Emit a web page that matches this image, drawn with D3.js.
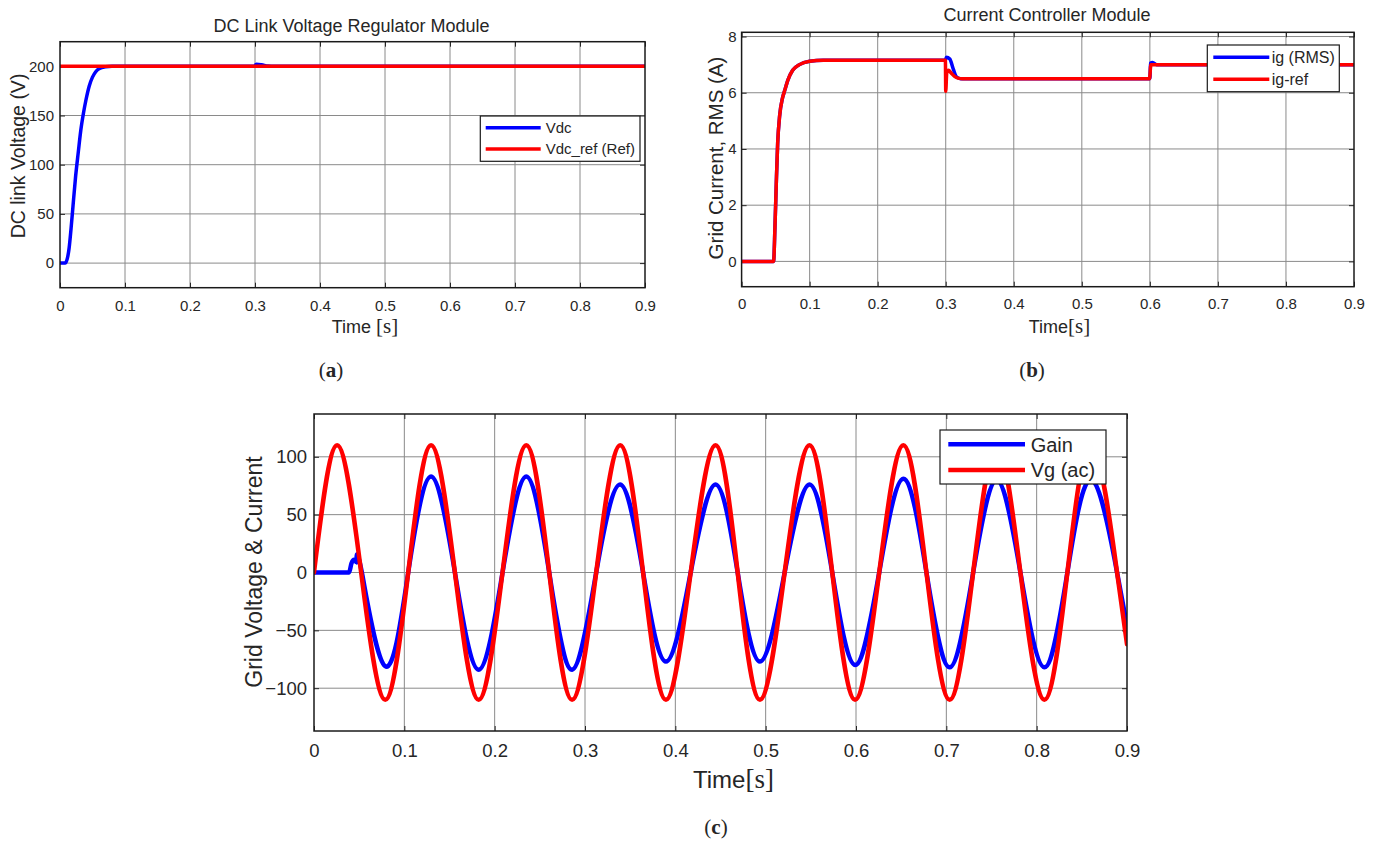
<!DOCTYPE html>
<html>
<head>
<meta charset="utf-8">
<script src="https://cdn.jsdelivr.net/npm/d3@7"></script>
<style>
  body { margin: 0; background: #fff; }
  svg { display: block; }
  text { font-family: "Liberation Sans", Arial, sans-serif; fill: #262626; }
</style>
</head>
<body>
<svg id="chart" width="1381" height="843"></svg>
<script>
// shared time axis
const timeTicks = [0, 0.1, 0.2, 0.3, 0.4, 0.5, 0.6, 0.7, 0.8, 0.9];
const timeTickLabels = ['0', '0.1', '0.2', '0.3', '0.4', '0.5', '0.6', '0.7', '0.8', '0.9'];

// (a) DC link voltage
const vdcTime   = [0, 0.008, 0.011, 0.014, 0.017, 0.020, 0.024, 0.028, 0.032, 0.036, 0.040, 0.045, 0.050, 0.055, 0.060, 0.070, 0.080, 0.299, 0.302, 0.310, 0.320, 0.330, 0.9];
const vdcValues = [0, 0, 4, 15, 35, 58, 88, 112, 135, 152, 166, 180, 189, 194.5, 197.5, 199.5, 200, 200, 202, 201.5, 200.3, 200, 200];
const vdcRefTime   = [0, 0.9];
const vdcRefValues = [200, 200];
const vdcTicks = [0, 50, 100, 150, 200];

// (b) grid current RMS
const igTime   = [0, 0.047, 0.049, 0.051, 0.053, 0.056, 0.060, 0.063, 0.068, 0.075, 0.085, 0.100, 0.120, 0.2995, 0.301, 0.306, 0.311, 0.316, 0.322, 0.600, 0.601, 0.604, 0.610, 0.9];
const igValues = [0, 0, 1.2, 2.8, 4.2, 5.2, 5.8, 6.05, 6.45, 6.8, 7.0, 7.12, 7.16, 7.16, 7.26, 7.2, 6.85, 6.56, 6.5, 6.5, 7.05, 7.08, 7.0, 7.0];
const igRefTime   = [0, 0.047, 0.049, 0.051, 0.053, 0.056, 0.060, 0.063, 0.068, 0.075, 0.085, 0.100, 0.120, 0.2995, 0.300, 0.3015, 0.304, 0.308, 0.313, 0.318, 0.325, 0.5995, 0.6015, 0.9];
const igRefValues = [0, 0, 1.2, 2.8, 4.2, 5.2, 5.8, 6.05, 6.45, 6.8, 7.0, 7.12, 7.16, 7.16, 6.05, 6.7, 6.8, 6.7, 6.58, 6.52, 6.5, 6.5, 7.0, 7.0];
const igTicks = [0, 2, 4, 6, 8];

// (c) grid voltage & current
const gainTime   = [0, 0.0388, 0.0415, 0.0444, 0.047, 0.053, 0.0789, 0.1043, 0.1296, 0.156, 0.1823, 0.2087, 0.235, 0.2604, 0.2857, 0.3124, 0.339, 0.3643, 0.3896, 0.417, 0.4445, 0.469, 0.4937, 0.521, 0.5485, 0.5737, 0.599, 0.6257, 0.6524, 0.678, 0.7037, 0.7297, 0.7557, 0.782, 0.8085, 0.834, 0.861, 0.889, 0.9];
const gainValues = [0, 0, 8, 11, 9, 0, -81, 0, 83, 0, -84, 0, 83, 0, -84, 0, 76, 0, -77, 0, 76, 0, -77, 0, 76, 0, -80, 0, 81, 0, -82, 0, 80, 0, -82, 0, 80, 0, -46];
const vgTime   = [0, 0.0256, 0.0522, 0.0789, 0.1043, 0.1296, 0.156, 0.1823, 0.2087, 0.235, 0.2604, 0.2857, 0.3124, 0.339, 0.3643, 0.3896, 0.417, 0.4445, 0.469, 0.4937, 0.521, 0.5485, 0.5737, 0.599, 0.6257, 0.6524, 0.678, 0.7037, 0.7297, 0.7557, 0.782, 0.8085, 0.834, 0.861, 0.889, 0.9];
const vgValues = [0, 110, 0, -110, 0, 110, 0, -110, 0, 110, 0, -110, 0, 110, 0, -110, 0, 110, 0, -110, 0, 110, 0, -110, 0, 110, 0, -110, 0, 110, 0, -110, 0, 110, 0, -62];
const gridTicks = [-100, -50, 0, 50, 100];

const svg = d3.select('#chart');
const zip = (t, v) => t.map((d, i) => [d, v[i]]);

function drawPanel(p) {
    const g = svg.append('g');
    const x = d3.scaleLinear().domain([0, 0.9]).range([p.left, p.right]);
    const y = d3.scaleLinear().domain(p.yDomain).range([p.bottom, p.top]);

    // grid
    g.append('g').selectAll('line')
        .data(timeTicks.slice(1, -1))
        .join('line')
        .attr('x1', d => x(d)).attr('x2', d => x(d))
        .attr('y1', p.top).attr('y2', p.bottom)
        .attr('stroke', '#8a8a8a').attr('stroke-width', 1);
    g.append('g').selectAll('line')
        .data(p.yTicks)
        .join('line')
        .attr('x1', p.left).attr('x2', p.right)
        .attr('y1', d => y(d)).attr('y2', d => y(d))
        .attr('stroke', '#8a8a8a').attr('stroke-width', 1);

    // axes, ticks pointing inwards
    const xAxis = g.append('g')
        .attr('transform', `translate(0,${p.bottom})`)
        .call(d3.axisBottom(x).tickValues(timeTicks)
            .tickFormat((d, i) => timeTickLabels[i])
            .tickSizeInner(-5).tickSizeOuter(0).tickPadding(p.xPad));
    const yAxis = g.append('g')
        .attr('transform', `translate(${p.left},0)`)
        .call(d3.axisLeft(y).tickValues(p.yTicks)
            .tickSizeInner(-5).tickSizeOuter(0).tickPadding(p.yPad));
    g.append('g')
        .attr('transform', `translate(${p.right},0)`)
        .call(d3.axisRight(y).tickValues(p.yTicks).tickFormat('').tickSizeInner(-5).tickSizeOuter(0));
    g.append('g')
        .attr('transform', `translate(0,${p.top})`)
        .call(d3.axisTop(x).tickValues(timeTicks).tickFormat('').tickSizeInner(-5).tickSizeOuter(0));
    g.selectAll('.domain').remove();
    g.selectAll('.tick line').attr('stroke', '#262626');
    [xAxis, yAxis].forEach(a => a.selectAll('text')
        .style('font-size', p.tickFont + 'px')
        .attr('fill', '#262626'));

    // data lines, clipped to the plot box
    const clipId = 'clip-' + p.id;
    g.append('clipPath').attr('id', clipId)
        .append('rect')
        .attr('x', p.left).attr('y', p.top)
        .attr('width', p.right - p.left).attr('height', p.bottom - p.top);
    const lines = g.append('g').attr('clip-path', `url(#${clipId})`);
    p.series.forEach(s => {
        s.parts.forEach(part => {
            lines.append('path')
                .datum(part.points)
                .attr('d', d3.line().x(d => x(d[0])).y(d => y(d[1])).curve(part.curve))
                .attr('fill', 'none')
                .attr('stroke', s.color)
                .attr('stroke-width', p.lineWidth)
                .attr('stroke-linejoin', 'round')
                .attr('stroke-linecap', 'round');
        });
    });

    // box
    g.append('rect')
        .attr('x', p.left).attr('y', p.top)
        .attr('width', p.right - p.left).attr('height', p.bottom - p.top)
        .attr('fill', 'none').attr('stroke', '#1a1a1a').attr('stroke-width', 1.5);

    // legend
    const L = p.legend;
    const legend = g.append('g');
    legend.append('rect')
        .attr('x', L.x).attr('y', L.y).attr('width', L.w).attr('height', L.h)
        .attr('fill', '#fff').attr('stroke', '#1a1a1a').attr('stroke-width', 1.2);
    p.series.forEach((s, i) => {
        const ly = L.y + L.rows[i];
        legend.append('line')
            .attr('x1', L.x + L.lineX0).attr('x2', L.x + L.lineX1)
            .attr('y1', ly).attr('y2', ly)
            .attr('stroke', s.color).attr('stroke-width', p.lineWidth);
        legend.append('text')
            .attr('x', L.x + L.textX).attr('y', ly)
            .attr('dy', '0.36em')
            .style('font-size', L.font + 'px')
            .text(s.name);
    });

    // titles and labels
    if (p.title) {
        g.append('text')
            .attr('x', p.title.x).attr('y', p.title.y)
            .attr('text-anchor', 'middle')
            .style('font-size', p.title.size + 'px')
            .text(p.title.text);
    }
    g.append('text')
        .attr('transform', `translate(${p.yLabel.x},${p.yLabel.y}) rotate(-90)`)
        .attr('text-anchor', 'middle')
        .style('font-size', p.yLabel.size + 'px')
        .text(p.yLabel.text);

    const xl = g.append('text')
        .attr('x', p.xLabel.x).attr('y', p.xLabel.y)
        .attr('text-anchor', 'middle')
        .style('font-size', p.xLabel.size + 'px');
    xl.append('tspan').text(p.xLabel.text);
    xl.append('tspan')
        .style('font-family', '"Liberation Serif", "Times New Roman", serif')
        .style('font-size', p.xLabel.unitSize + 'px')
        .text('[s]');

    const cap = g.append('text')
        .attr('x', p.caption.x).attr('y', p.caption.y)
        .attr('text-anchor', 'middle')
        .style('font-family', '"Liberation Serif", "Times New Roman", serif')
        .style('font-size', '21px')
        .attr('fill', '#111');
    cap.append('tspan').text('(');
    cap.append('tspan').style('font-weight', 'bold').text(p.caption.letter);
    cap.append('tspan').text(')');
}

drawPanel({
    id: 'a', left: 60, right: 645, top: 41.7, bottom: 287.7,
    yDomain: [-25, 225], yTicks: vdcTicks, tickFont: 15, xPad: 13, yPad: 6, lineWidth: 3.5,
    series: [
        { name: 'Vdc', color: '#0000ff', parts: [{ points: zip(vdcTime, vdcValues), curve: d3.curveMonotoneX }] },
        { name: 'Vdc_ref (Ref)', color: '#ff0000', parts: [{ points: zip(vdcRefTime, vdcRefValues), curve: d3.curveLinear }] }
    ],
    legend: { x: 480.3, y: 116, w: 159.7, h: 45.3, rows: [11.7, 33], lineX0: 5.4, lineX1: 60.4, textX: 65.4, font: 15 },
    title: { text: 'DC Link Voltage Regulator Module', x: 351.5, y: 32, size: 18 },
    yLabel: { text: 'DC link Voltage (V)', x: 25, y: 156, size: 19.5 },
    xLabel: { text: 'Time ', x: 365, y: 333, size: 18, unitSize: 21 },
    caption: { letter: 'a', x: 331, y: 377 }
});

drawPanel({
    id: 'b', left: 741.6, right: 1354, top: 32.3, bottom: 286.7,
    yDomain: [-0.9, 8.15], yTicks: igTicks, tickFont: 15, xPad: 12, yPad: 5, lineWidth: 3.5,
    series: [
        { name: 'ig (RMS)', color: '#0000ff', parts: [{ points: zip(igTime, igValues), curve: d3.curveMonotoneX }] },
        { name: 'ig-ref', color: '#ff0000', parts: [{ points: zip(igRefTime, igRefValues), curve: d3.curveMonotoneX }] }
    ],
    legend: { x: 1207.3, y: 45, w: 132, h: 46.7, rows: [12.3, 34.3], lineX0: 6, lineX1: 62, textX: 64.4, font: 16 },
    title: { text: 'Current Controller Module', x: 1047, y: 21, size: 18 },
    yLabel: { text: 'Grid Current, RMS (A)', x: 723, y: 158, size: 20.5 },
    xLabel: { text: 'Time', x: 1059.5, y: 333, size: 18, unitSize: 21 },
    caption: { letter: 'b', x: 1032, y: 377 }
});

const gainPts = zip(gainTime, gainValues);
drawPanel({
    id: 'c', left: 314, right: 1127, top: 414, bottom: 731,
    yDomain: [-137, 137], yTicks: gridTicks, tickFont: 18.5, xPad: 13, yPad: 7, lineWidth: 4.5,
    series: [
        { name: 'Gain', color: '#0000ff', parts: [
            { points: gainPts.filter(d => d[0] <= 0.047), curve: d3.curveMonotoneX },
            { points: gainPts.filter(d => d[0] >= 0.047), curve: d3.curveNatural }
        ] },
        { name: 'Vg (ac)', color: '#ff0000', parts: [{ points: zip(vgTime, vgValues), curve: d3.curveNatural }] }
    ],
    legend: { x: 940, y: 430, w: 166, h: 54, rows: [14.3, 40], lineX0: 8.3, lineX1: 85, textX: 90.7, font: 20 },
    title: null,
    yLabel: { text: 'Grid Voltage & Current', x: 262, y: 572, size: 23 },
    xLabel: { text: 'Time', x: 733.5, y: 788, size: 24, unitSize: 27 },
    caption: { letter: 'c', x: 716, y: 834 }
});
</script>
</body>
</html>
